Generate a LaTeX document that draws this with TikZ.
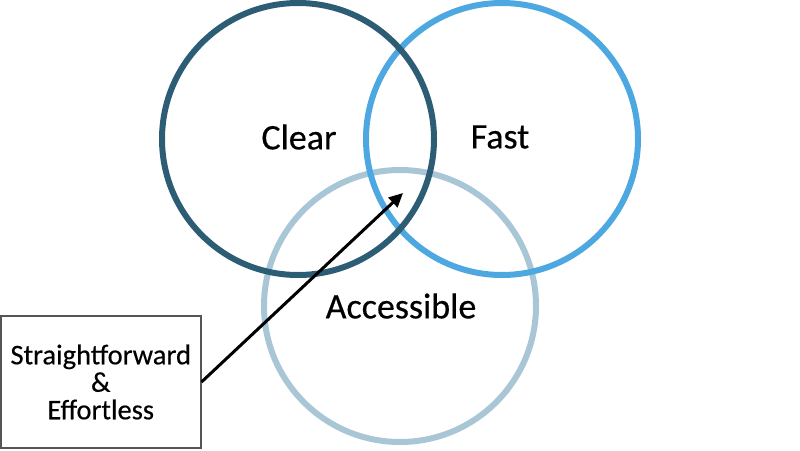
\documentclass[tikz,border=0pt]{standalone}
\usepackage{fontspec}
\setmainfont{Carlito}[FakeBold=0.4]
\usetikzlibrary{arrows.meta}

\definecolor{clearblue}{RGB}{44,93,116}
\definecolor{fastblue}{RGB}{77,167,224}
\definecolor{accessblue}{RGB}{168,198,214}
\definecolor{boxgray}{RGB}{85,85,85}

\begin{document}
\begin{tikzpicture}[
    x = 1pt, y = -1pt,
    ring/.style = {draw, circle, line width = 6pt, minimum size = 272pt, inner sep = 0pt},
    word/.style = {font = \fontsize{36}{40}\selectfont},
    note/.style = {draw = boxgray, line width = 1.5pt, minimum width = 200pt,
      minimum height = 132pt, align = center,
      font = \fontsize{28.5}{27.5}\selectfont},
    pointer/.style = {line width = 3pt, -{Triangle[length=14pt, width=13pt]}}
  ]
  \useasboundingbox (0,0) rectangle (800,450);

  % Rings, back to front
  \node[ring, accessblue] (Access) at (400,306) {};
  \node[ring, fastblue]   (Fast)   at (502,139) {};
  \node[ring, clearblue]  (Clear)  at (298,139) {};

  % Labels
  \node[word] (ClearLbl)  at (299,137) {Clear};
  \node[word] (FastLbl)   at (500,137) {Fast};
  \node[word] (AccessLbl) at (401,306) {Accessible};

  % Note and pointer
  \node[note] (Note) at (100.75,382) {Straightforward\\\&\\Effortless};
  \coordinate (Middle) at (403,193);
  \draw[pointer] (Note.east) -- (Middle);

\end{tikzpicture}
\end{document}
